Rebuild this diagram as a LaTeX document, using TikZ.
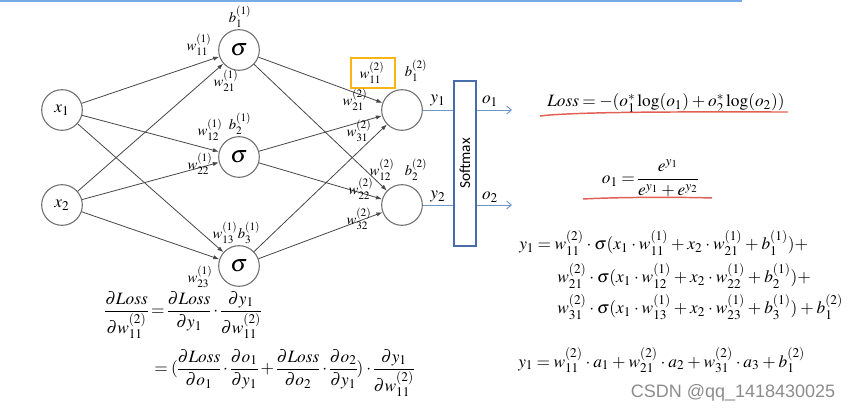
\documentclass[tikz,border=0pt]{standalone}
\usepackage{amsmath}
\usepackage{mathptmx}
\usepackage[no-math]{fontspec}
\setmainfont{Liberation Serif}
\newfontfamily\carlito{Carlito}
\newfontfamily\wmfont{Liberation Sans}
\usetikzlibrary{arrows.meta}
\DeclareMathSizes{11}{11}{8.5}{7}
\DeclareMathSizes{13}{13}{10}{8}
\DeclareMathSizes{18}{18}{13}{10}
\definecolor{edgecol}{RGB}{70,70,70}
\definecolor{circcol}{RGB}{110,110,110}
\definecolor{bluecol}{RGB}{110,150,200}
\definecolor{boxblue}{RGB}{70,110,170}
\definecolor{orangecol}{RGB}{250,180,20}
\definecolor{redcol}{RGB}{225,95,85}
\definecolor{topblue}{RGB}{120,170,230}
\begin{document}
\begin{tikzpicture}[x=0.75pt,y=-0.75pt,
  neuron/.style={circle,draw=circcol,line width=0.8pt,minimum size=30.5pt,inner sep=0pt,font=\fontsize{13}{15}\selectfont},
  hid/.style={neuron,font=\fontsize{18}{20}\selectfont},
  conn/.style={draw=edgecol,line width=0.6pt,-{Latex[length=4.5pt,width=3.2pt]}},
  lab/.style={inner sep=0pt,font=\fontsize{11}{13}\selectfont},
  olab/.style={inner sep=0pt,font=\fontsize{13}{15}\selectfont},
  bline/.style={draw=bluecol,line width=0.7pt},
  eq/.style={inner sep=0pt,font=\fontsize{13}{16}\selectfont},
  uline/.style={draw=redcol,line width=1.1pt}]
\thickmuskip=3.5mu plus 2mu
\medmuskip=3mu plus 1mu
\nulldelimiterspace=0pt
\useasboundingbox (0,0) rectangle (853,413);
\draw[topblue,line width=1.2pt] (0,0.8) -- (742,0.8);
% neurons
\node[neuron] (x1) at (62,110) {$x_1$};
\node[neuron] (x2) at (62,205) {$x_2$};
\node[hid] (h1) at (239,50) {$\sigma$};
\node[hid] (h2) at (239,157) {$\sigma$};
\node[hid] (h3) at (239,266) {$\sigma$};
\node[neuron] (n1) at (402,110) {};
\node[neuron] (n2) at (402,205) {};
% softmax
\node[draw=boxblue,line width=0.9pt,minimum width=16.5pt,minimum height=123.75pt,inner sep=0pt] (sm) at (465,163.5) {};
\node[rotate=90,font=\carlito\fontsize{11.5}{13}\selectfont] at (sm.center) {Softmax};
% connections
\foreach \a in {x1,x2}{\foreach \b in {h1,h2,h3}{\draw[conn] (\a) -- (\b);}}
\foreach \a in {h1,h2,h3}{\foreach \b in {n1,n2}{\draw[conn] (\a) -- (\b);}}
% outputs
\coordinate (e1) at (512,110);
\coordinate (e2) at (512,205);
\draw[bline] (n1) -- (n1 -| sm.west);
\draw[bline] (n2) -- (n2 -| sm.west);
\draw[bline,-{Straight Barb[length=3.5pt,width=6pt]}] (sm.east |- n1) -- (e1);
\draw[bline,-{Straight Barb[length=3.5pt,width=6pt]}] (sm.east |- n2) -- (e2);
\node[olab] at (438,101) {$y_1$};
\node[olab] at (490,101) {$o_1$};
\node[olab] at (438,197) {$y_2$};
\node[olab] at (490,197) {$o_2$};
% layer 1 labels
\node[lab] (lb11) at (240,17) {$b_1^{(1)}$};
\node[lab] (lw111) at (199,45) {$w_{11}^{(1)}$};
\node[lab] (lw121) at (226,81) {$w_{21}^{(1)}$};
\node[lab] (lw112) at (210,130) {$w_{12}^{(1)}$};
\node[lab] (lb21) at (240,124) {$b_2^{(1)}$};
\node[lab] (lw122) at (200,164) {$w_{22}^{(1)}$};
\node[lab] (lw113) at (225,233) {$w_{13}^{(1)}$};
\node[lab] (lb31) at (249,233) {$b_3^{(1)}$};
\node[lab] (lw123) at (200,277) {$w_{23}^{(1)}$};
% layer 2 labels
\node[lab] (lw211) at (372,73) {$w_{11}^{(2)}$};
\node[draw=orangecol,line width=2.2pt,minimum width=33pt,minimum height=22.5pt,inner sep=0pt] (hl) at (373,73) {};
\node[lab] (lb12) at (416,71) {$b_1^{(2)}$};
\node[lab] (lw221) at (355,100) {$w_{21}^{(2)}$};
\node[lab] (lw231) at (359,131) {$w_{31}^{(2)}$};
\node[lab] (lw212) at (382,170) {$w_{12}^{(2)}$};
\node[lab] (lb22) at (416,170) {$b_2^{(2)}$};
\node[lab] (lw222) at (361,189) {$w_{22}^{(2)}$};
\node[lab] (lw232) at (359,219) {$w_{32}^{(2)}$};
% right equations
\node[eq,anchor=west] (loss) at (547,103) {$\mathit{Loss} = -(o_1^* \log(o_1) + o_2^* \log(o_2))$};
\draw[uline] (540,116) .. controls (580,111) and (720,112) .. (788,112);
\node[eq] (oeq) at (650,178) {$o_1 = \dfrac{e^{y_1}}{e^{y_1}+e^{y_2}}$};
\draw[uline] (583,199) .. controls (620,197) and (680,197) .. (712,198);
\node[eq,anchor=base west] (ya) at (519,250) {$y_1 = w_{11}^{(2)}\cdot\sigma(x_1\cdot w_{11}^{(1)}+x_2\cdot w_{21}^{(1)}+b_1^{(1)})+$};
\node[eq,anchor=base west] (yb) at (557,283) {$w_{21}^{(2)}\cdot\sigma(x_1\cdot w_{12}^{(1)}+x_2\cdot w_{22}^{(1)}+b_2^{(1)})+$};
\node[eq,anchor=base west] (yc) at (557,314) {$w_{31}^{(2)}\cdot\sigma(x_1\cdot w_{13}^{(1)}+x_2\cdot w_{23}^{(1)}+b_3^{(1)})+b_1^{(2)}$};
\node[eq,anchor=base west] (yd) at (518,367) {$y_1 = w_{11}^{(2)}\cdot a_1 + w_{21}^{(2)}\cdot a_2 + w_{31}^{(2)}\cdot a_3 + b_1^{(2)}$};
% bottom-left equations
\node[eq,anchor=west] (d1) at (105,315) {$\dfrac{\partial \mathit{Loss}}{\partial w_{11}^{(2)}} = \dfrac{\partial \mathit{Loss}}{\partial y_1}\cdot\dfrac{\partial y_1}{\partial w_{11}^{(2)}}$};
\node[eq,anchor=west] (d2) at (154,373) {$= (\dfrac{\partial \mathit{Loss}}{\partial o_1}\cdot\dfrac{\partial o_1}{\partial y_1}+\dfrac{\partial \mathit{Loss}}{\partial o_2}\cdot\dfrac{\partial o_2}{\partial y_1})\cdot\dfrac{\partial y_1}{\partial w_{11}^{(2)}}$};
% watermark
\node[inner sep=0pt,text=black!45,font=\wmfont\fontsize{13.5}{15}\selectfont] (wm) at (733,393) {CSDN @qq\_1418430025};
\end{tikzpicture}
\end{document}
